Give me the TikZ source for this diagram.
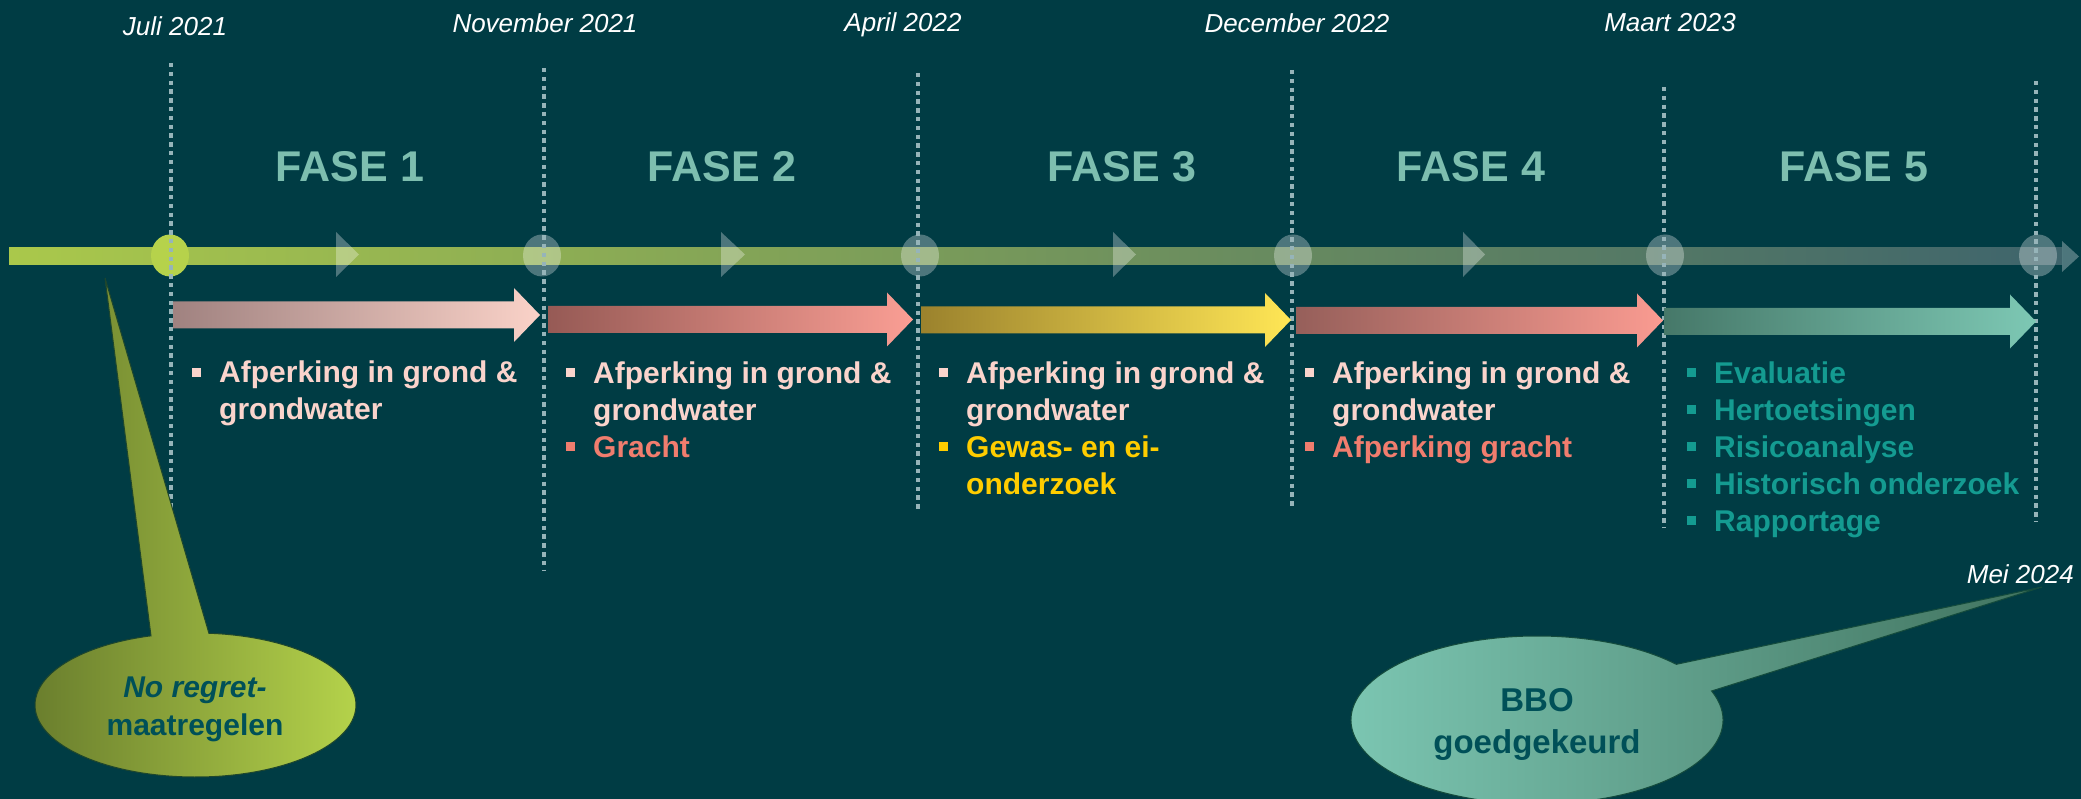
\documentclass[tikz,border=0pt]{standalone}
\usepackage{fontspec}
\setmainfont{Liberation Sans}

\definecolor{bg}{RGB}{0,60,68}
\definecolor{fasecol}{RGB}{125,190,175}
\definecolor{dotcol}{RGB}{150,180,185}
\definecolor{pinktxt}{RGB}{250,212,204}
\definecolor{salmtxt}{RGB}{240,125,110}
\definecolor{geeltxt}{RGB}{255,205,0}
\definecolor{teal5}{RGB}{20,155,145}
\definecolor{calltxt}{RGB}{0,80,88}
\definecolor{limecol}{RGB}{182,210,75}
\definecolor{barl}{RGB}{170,200,75}
\definecolor{barm}{RGB}{120,155,112}
\definecolor{barr}{RGB}{62,100,108}
\definecolor{a1l}{RGB}{160,130,128}
\definecolor{a1r}{RGB}{250,210,200}
\definecolor{a2l}{RGB}{150,90,85}
\definecolor{a2r}{RGB}{250,158,148}
\definecolor{a3l}{RGB}{155,130,45}
\definecolor{a3r}{RGB}{255,230,85}
\definecolor{a4l}{RGB}{150,95,90}
\definecolor{a4r}{RGB}{250,155,145}
\definecolor{a5l}{RGB}{70,120,105}
\definecolor{a5r}{RGB}{125,200,180}
\definecolor{c1l}{RGB}{105,125,45}
\definecolor{c1r}{RGB}{182,212,75}
\definecolor{c1rand}{RGB}{30,70,45}
\definecolor{c2l}{RGB}{125,200,180}
\definecolor{c2r}{RGB}{65,115,95}
\definecolor{c2rand}{RGB}{20,75,60}

% blok arrow of one phase: x1, x2, y, left colour, right colour
\newcommand{\fasepijl}[5]{%
  \path[left color=#4, right color=#5] (#1,#3-13.5) -- (#2-26,#3-13.5) -- (#2-26,#3-27) -- (#2,#3)
    -- (#2-26,#3+27) -- (#2-26,#3+13.5) -- (#1,#3+13.5) -- cycle;}
% square bullet
\newcommand{\blok}[1]{\makebox[27pt][l]{\textcolor{#1}{\rule[6pt]{9pt}{9pt}}}}

\tikzset{
  datum/.style={font=\fontsize{26}{30}\selectfont\itshape, text=white, inner sep=0, anchor=base},
  fase/.style={font=\fontsize{43}{50}\selectfont\bfseries, text=fasecol, inner sep=0, anchor=base},
  mijlpaal/.style={dotcol, line width=3.5, dash pattern=on 4.5pt off 4.3pt},
  lijst/.style={font=\fontsize{30}{37}\selectfont\bfseries, align=left, inner sep=0, anchor=base west},
  bol/.style={fill=white, fill opacity=0.3},
  pijlpunt/.style={fill=white, fill opacity=0.3},
  wolk/.style 2 args={font=\fontsize{#1}{#2}\selectfont\bfseries, text=calltxt, align=center, inner sep=0, anchor=base},
}

\begin{document}
\begin{tikzpicture}[x=1pt,y=-1pt]
\useasboundingbox (0,0) rectangle (2081,799);
\fill[bg] (0,0) rectangle (2081,799);

% timeline
\path[left color=barl, middle color=barm, right color=barr] (9,248) rectangle (2062,265);
\fill[pijlpunt] (2062,241) -- (2079,256.5) -- (2062,272) -- cycle;
\fill[pijlpunt] (336,232) -- (359,254.5) -- (336,277) -- cycle;
\fill[pijlpunt] (721,232) -- (745,254.5) -- (721,277) -- cycle;
\fill[pijlpunt] (1113,232) -- (1136,254.5) -- (1113,277) -- cycle;
\fill[pijlpunt] (1463,232) -- (1485,254.5) -- (1463,277) -- cycle;
\fill[limecol] (170,255.5) ellipse [x radius=19, y radius=21];
\fill[bol] (542,255.5) ellipse [x radius=19, y radius=21];
\fill[bol] (920,255.5) ellipse [x radius=19, y radius=21];
\fill[bol] (1293,255.5) ellipse [x radius=19, y radius=21];
\fill[bol] (1665,255.5) ellipse [x radius=19, y radius=21];
\fill[bol] (2038,255.5) ellipse [x radius=19, y radius=21];

% milestones
\draw[mijlpaal] (171,63) -- (171,549);
\draw[mijlpaal] (544,68) -- (544,571);
\draw[mijlpaal] (918,73) -- (918,512);
\draw[mijlpaal] (1292,70) -- (1292,509);
\draw[mijlpaal] (1664,87) -- (1664,528);
\draw[mijlpaal] (2036,81) -- (2036,522);

\node[datum] (jul) at (175,36) {Juli 2021};
\node[datum] (nov) at (545,33) {November 2021};
\node[datum] (apr) at (903,32) {April 2022};
\node[datum] (dec) at (1297,33) {December 2022};
\node[datum] (mrt) at (1670,32) {Maart 2023};
\node[datum, anchor=base east] (mei) at (2074,583) {Mei 2024};

\node[fase] (f1) at (350,182) {FASE 1};
\node[fase] (f2) at (722,182) {FASE 2};
\node[fase] (f3) at (1122,182) {FASE 3};
\node[fase] (f4) at (1471,182) {FASE 4};
\node[fase] (f5) at (1854,182) {FASE 5};

% phase arrows
\fasepijl{173}{540}{315}{a1l}{a1r}
\fasepijl{548}{913}{319.5}{a2l}{a2r}
\fasepijl{921}{1291}{320}{a3l}{a3r}
\fasepijl{1296}{1663}{320.5}{a4l}{a4r}
\fasepijl{1664}{2036}{321.5}{a5l}{a5r}

% work per phase (base = last line)
\node[lijst, text=pinktxt] (lijst1) at (192,420) {\blok{pinktxt}Afperking in grond \&\\\hspace*{27pt}grondwater};
\node[lijst, text=pinktxt] (lijst2) at (566,457) {\blok{pinktxt}Afperking in grond \&\\\hspace*{27pt}grondwater\\
  \blok{salmtxt}\textcolor{salmtxt}{Gracht}};
\node[lijst, text=pinktxt] (lijst3) at (939,494) {\blok{pinktxt}Afperking in grond \&\\\hspace*{27pt}grondwater\\
  \blok{geeltxt}\textcolor{geeltxt}{Gewas- en ei-}\\\hspace*{27pt}\textcolor{geeltxt}{onderzoek}};
\node[lijst, text=pinktxt] (lijst4) at (1305,457) {\blok{pinktxt}Afperking in grond \&\\\hspace*{27pt}grondwater\\
  \blok{salmtxt}\textcolor{salmtxt}{Afperking gracht}};
\node[lijst, text=teal5] (lijst5) at (1687,531) {\blok{teal5}Evaluatie\\\blok{teal5}Hertoetsingen\\
  \blok{teal5}Risicoanalyse\\\blok{teal5}Historisch onderzoek\\\blok{teal5}Rapportage};

% callouts
\coordinate (tip1) at (105,278);
\coordinate (tip2) at (2042,587);
\path[left color=c1l, right color=c1r, draw=c1rand, line width=1] (195.5,705) ++(-85.2:160.5 and 72)
  arc[start angle=-85.2, end angle=253.9, x radius=160.5, y radius=72] -- (tip1) -- cycle;
\path[left color=c2l, right color=c2r, draw=c2rand, line width=1] (1537,720) ++(-20.2:186 and 84)
  arc[start angle=-20.2, end angle=318.5, x radius=186, y radius=84] -- (tip2) -- cycle;
\node[wolk={30}{38}] (noregret) at (195,735) {\textit{No regret-}\\maatregelen};
\node[wolk={33}{42}] (bbo) at (1537,753) {BBO\\goedgekeurd};
\end{tikzpicture}
\end{document}
